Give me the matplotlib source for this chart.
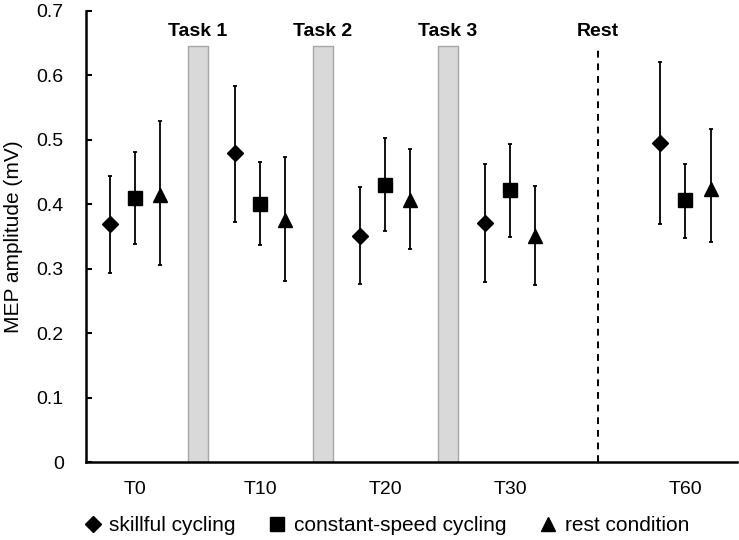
import matplotlib.pyplot as plt
from matplotlib.lines import Line2D

plt.rcParams["font.family"] = ["Liberation Sans", "DejaVu Sans"]

# time points and their positions on the x axis
timepoints = ["T0", "T10", "T20", "T30", "T60"]
positions = [0, 1, 2, 3, 4.4]

# mean MEP amplitude (mV) with lower / upper error limits
skillful_mean = [0.369, 0.479, 0.351, 0.371, 0.495]
skillful_lo = [0.294, 0.372, 0.276, 0.280, 0.370]
skillful_hi = [0.443, 0.584, 0.427, 0.462, 0.620]

constant_mean = [0.410, 0.400, 0.430, 0.422, 0.406]
constant_lo = [0.338, 0.336, 0.359, 0.349, 0.347]
constant_hi = [0.481, 0.466, 0.502, 0.493, 0.462]

rest_mean = [0.415, 0.375, 0.406, 0.350, 0.424]
rest_lo = [0.305, 0.281, 0.330, 0.275, 0.342]
rest_hi = [0.529, 0.473, 0.485, 0.428, 0.516]

# task periods between measurements
task_labels = ["Task 1", "Task 2", "Task 3"]
task_positions = [0.5, 1.5, 2.5]
task_height = 0.645
rest_position = 3.7

series = [
    ("skillful cycling", skillful_mean, skillful_lo, skillful_hi, "D", 8, -0.2),
    ("constant-speed cycling", constant_mean, constant_lo, constant_hi, "s", 10, 0.0),
    ("rest condition", rest_mean, rest_lo, rest_hi, "^", 10, 0.2),
]

fig = plt.figure(figsize=(7.39, 5.4), dpi=100)
ax = fig.add_axes([0.1164, 0.1444, 0.8806, 0.8356])

# gray task bars
ax.bar(task_positions, [task_height] * len(task_positions), width=0.16,
       color="#d9d9d9", edgecolor="#a6a6a6", linewidth=1.0, zorder=1)
for x, lab in zip(task_positions, task_labels):
    ax.text(x, 0.668, lab, ha="center", va="center", fontsize=14, fontweight="bold")

# rest period marker
ax.plot([rest_position, rest_position], [0, task_height], color="black",
        linestyle=(0, (3.5, 3)), linewidth=1.4, zorder=1)
ax.text(rest_position, 0.668, "Rest", ha="center", va="center", fontsize=14, fontweight="bold")

handles = []
for name, mean, lo, hi, marker, ms, offset in series:
    xs = [p + offset for p in positions]
    err = [[m - l for m, l in zip(mean, lo)], [h - m for m, h in zip(mean, hi)]]
    ax.errorbar(xs, mean, yerr=err, fmt=marker, color="black", markersize=ms,
                elinewidth=1.3, capsize=1.7, capthick=1.3, zorder=3)
    handles.append(Line2D([0], [0], marker=marker, color="black", linestyle="none",
                          markersize=ms, label=name))

ax.set_xlim(-0.392, 4.81)
ax.set_ylim(0, 0.7)
ax.set_xticks(positions)
ax.set_xticklabels(timepoints, fontsize=14)
ax.set_yticks([0, 0.1, 0.2, 0.3, 0.4, 0.5, 0.6, 0.7])
ax.set_yticklabels(["0", "0.1", "0.2", "0.3", "0.4", "0.5", "0.6", "0.7"], fontsize=14)
ax.tick_params(axis="x", length=0, pad=14)
ax.tick_params(axis="y", direction="in", length=4, width=1.5, pad=16)
ax.set_ylabel("MEP amplitude (mV)", fontsize=15)
ax.yaxis.set_label_coords(-0.097, 0.5)

for side in ["top", "right"]:
    ax.spines[side].set_visible(False)
for side in ["left", "bottom"]:
    ax.spines[side].set_linewidth(1.8)

fig.legend(handles=handles, loc="center", bbox_to_anchor=(0.522, 0.027), ncol=3,
           frameon=False, fontsize=15, handletextpad=0.3, columnspacing=1.5,
           handlelength=1.0)

fig.savefig("out.png", dpi=100)
